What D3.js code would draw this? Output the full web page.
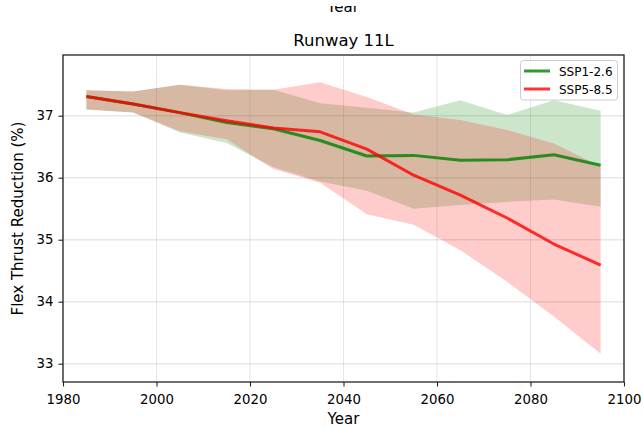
<!DOCTYPE html>
<html><head><meta charset="utf-8">
<script src="https://cdn.jsdelivr.net/npm/d3@7/dist/d3.min.js"></script>
<style>
body{margin:0;background:#fff}
svg{display:block}
text{font-family:"DejaVu Sans",sans-serif;fill:#000}
</style>
</head><body>
<svg id="c" width="643" height="428"></svg>
<script>
// ---- data ----
const years = [1985,1995,2005,2015,2025,2035,2045,2055,2065,2075,2085,2095];
const ssp126Mean  = [37.31,37.19,37.05,36.89,36.79,36.60,36.35,36.36,36.28,36.29,36.37,36.20];
const ssp126Upper = [37.41,37.39,37.50,37.41,37.42,37.20,37.13,37.05,37.25,37.01,37.25,37.08];
const ssp126Lower = [37.10,37.05,36.73,36.56,36.17,35.94,35.79,35.50,35.56,35.61,35.65,35.53];
const ssp585Mean  = [37.31,37.19,37.05,36.92,36.80,36.74,36.46,36.04,35.72,35.35,34.93,34.59];
const ssp585Upper = [37.41,37.39,37.50,37.43,37.42,37.54,37.30,37.02,36.93,36.77,36.55,36.18];
const ssp585Lower = [37.10,37.05,36.75,36.62,36.14,35.92,35.41,35.24,34.83,34.32,33.76,33.16];
const seriesNames = ["SSP1-2.6","SSP5-8.5"];
const xTicks = [1980,2000,2020,2040,2060,2080,2100];
const yTicks = [33,34,35,36,37];
const titleText = "Runway 11L";
const xLabel = "Year";
const yLabel = "Flex Thrust Reduction (%)";

// ---- layout ----
const W = 643, H = 428;
const m = {left:63, right:624, top:55, bottom:382};
const svg = d3.select("#c");

const x = d3.scaleLinear().domain([1980,2100]).range([m.left,m.right]);
const y = d3.scaleLinear().domain([32.705,37.979]).range([m.bottom,m.top]);

// cut-off label from a panel above (only its lower part is visible in the reference)
svg.append("clipPath").attr("id","topclip").append("rect")
  .attr("x",0).attr("y",6).attr("width",W).attr("height",20);
svg.append("text").attr("x",343).attr("y",12).attr("text-anchor","middle")
  .attr("font-size",15).attr("clip-path","url(#topclip)").text(xLabel);

// grid
const grid = svg.append("g");
grid.selectAll(".gx").data(xTicks).join("line")
  .attr("x1",d=>x(d)).attr("x2",d=>x(d)).attr("y1",m.top).attr("y2",m.bottom)
  .attr("stroke","#b0b0b0").attr("stroke-opacity",0.3).attr("stroke-width",1);
grid.selectAll(".gy").data(yTicks).join("line")
  .attr("y1",d=>y(d)).attr("y2",d=>y(d)).attr("x1",m.left).attr("x2",m.right)
  .attr("stroke","#b0b0b0").attr("stroke-opacity",0.3).attr("stroke-width",1.5);

// bands
const area = (lo,hi) => d3.area().x((d,i)=>x(years[i])).y0((d,i)=>y(lo[i])).y1((d,i)=>y(hi[i]))(years);
svg.append("path").attr("d",area(ssp126Lower,ssp126Upper)).attr("fill","green").attr("fill-opacity",0.2);
svg.append("path").attr("d",area(ssp585Lower,ssp585Upper)).attr("fill","red").attr("fill-opacity",0.2);

// lines
const line = vals => d3.line().x((d,i)=>x(years[i])).y((d,i)=>y(vals[i]))(years);
svg.append("path").attr("d",line(ssp126Mean)).attr("fill","none").attr("stroke","green")
  .attr("stroke-opacity",0.8).attr("stroke-width",3).attr("stroke-linejoin","round");
svg.append("path").attr("d",line(ssp585Mean)).attr("fill","none").attr("stroke","red")
  .attr("stroke-opacity",0.8).attr("stroke-width",3).attr("stroke-linejoin","round");

// axes
const xAxis = svg.append("g").attr("transform",`translate(0,${m.bottom})`)
  .call(d3.axisBottom(x).tickValues(xTicks).tickFormat(d3.format("d")).tickSize(4.5).tickPadding(8));
const yAxis = svg.append("g").attr("transform",`translate(${m.left},0)`)
  .call(d3.axisLeft(y).tickValues(yTicks).tickFormat(d3.format("d")).tickSize(4.5).tickPadding(5));
[xAxis,yAxis].forEach(a=>{
  a.select(".domain").remove();
  a.selectAll(".tick line").attr("stroke","#222").attr("stroke-width",1.1);
  a.selectAll(".tick text").attr("font-size",13.3).attr("font-family","DejaVu Sans").attr("fill","#000");
});

// frame
svg.append("rect").attr("x",m.left).attr("y",m.top).attr("width",m.right-m.left).attr("height",m.bottom-m.top)
  .attr("fill","none").attr("stroke","#222").attr("stroke-width",1.3);

// title & labels
svg.append("text").attr("x",(m.left+m.right)/2).attr("y",46).attr("text-anchor","middle")
  .attr("font-size",16.5).text(titleText);
svg.append("text").attr("x",(m.left+m.right)/2).attr("y",424).attr("text-anchor","middle")
  .attr("font-size",15).text(xLabel);
svg.append("text").attr("transform",`translate(23,${(m.top+m.bottom)/2}) rotate(-90)`)
  .attr("text-anchor","middle").attr("font-size",15).text(yLabel);

// legend
const lg = svg.append("g");
lg.append("rect").attr("x",520.5).attr("y",60.5).attr("width",97).attr("height",39.5).attr("rx",3)
  .attr("fill","#fff").attr("fill-opacity",0.8).attr("stroke","#ccc").attr("stroke-width",1);
const lgColors = ["green","red"];
seriesNames.forEach((n,i)=>{
  const yy = 71 + i*18;
  lg.append("line").attr("x1",524).attr("x2",550).attr("y1",yy).attr("y2",yy)
    .attr("stroke",lgColors[i]).attr("stroke-opacity",0.8).attr("stroke-width",3);
  lg.append("text").attr("x",559).attr("y",yy+4.5).attr("font-size",12).text(n);
});
</script>
</body></html>
